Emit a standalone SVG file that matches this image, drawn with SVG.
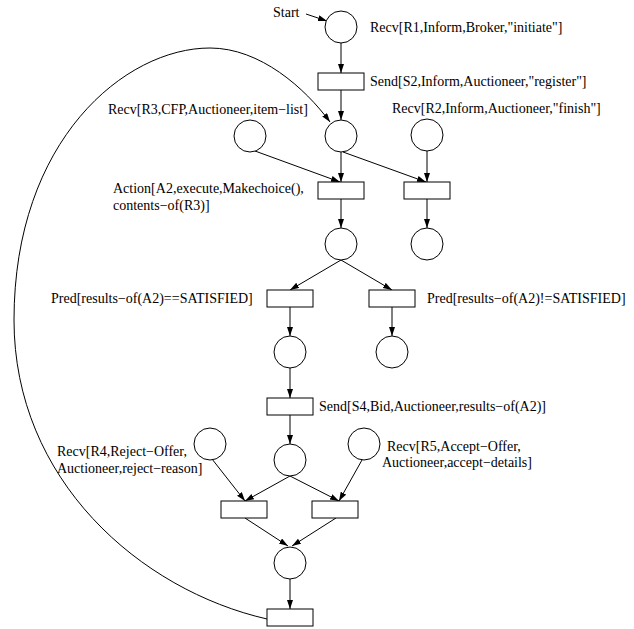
<svg xmlns="http://www.w3.org/2000/svg" width="634" height="629" viewBox="0 0 634 629">
<defs>
<marker id="ah" markerUnits="userSpaceOnUse" markerWidth="10" markerHeight="7" refX="9" refY="3" orient="auto">
<path d="M0,0 L9,3 L0,6 z" fill="#000"/>
</marker>
<style>
.pl{fill:#fff;stroke:#000;stroke-width:1}
.tr{fill:#fff;stroke:#000;stroke-width:1}
.ed{fill:none;stroke:#000;stroke-width:1;marker-end:url(#ah)}
text{font-family:"Liberation Serif","Times New Roman",serif;font-size:14px;fill:#000}
</style>
</defs>
<rect width="634" height="629" fill="#fff"/>
<g id="connectors">
<line class="ed" x1="306" y1="14" x2="327" y2="21"/>
<line class="ed" x1="341" y1="43" x2="341" y2="73"/>
<line class="ed" x1="341" y1="90" x2="341" y2="120"/>
<line class="ed" x1="341" y1="152" x2="341" y2="182"/>
<line class="ed" x1="255" y1="151" x2="340" y2="182"/>
<line class="ed" x1="343" y1="152" x2="426" y2="182"/>
<line class="ed" x1="427" y1="151" x2="427" y2="182"/>
<line class="ed" x1="341" y1="199" x2="341" y2="228"/>
<line class="ed" x1="427" y1="199" x2="427" y2="228"/>
<line class="ed" x1="341" y1="260" x2="290" y2="290"/>
<line class="ed" x1="341" y1="260" x2="392" y2="290"/>
<line class="ed" x1="290" y1="307" x2="290" y2="336"/>
<line class="ed" x1="392" y1="307" x2="392" y2="336"/>
<line class="ed" x1="290" y1="368" x2="290" y2="398"/>
<line class="ed" x1="290" y1="415" x2="290" y2="444"/>
<line class="ed" x1="212" y1="459" x2="245" y2="501"/>
<line class="ed" x1="290" y1="476" x2="245" y2="501"/>
<line class="ed" x1="290" y1="476" x2="339" y2="501"/>
<line class="ed" x1="362" y1="460" x2="339" y2="501"/>
<line class="ed" x1="245" y1="518" x2="288" y2="546"/>
<line class="ed" x1="336" y1="518" x2="292" y2="546"/>
<line class="ed" x1="290" y1="579" x2="290" y2="609"/>
<path class="ed" d="M267,619 C140,590 14,480 14,320 C14,140 125,48 210,48 C260,48 305,88 330,122"/>
</g>
<g id="start"><text x="273" y="17">Start</text></g>
<g id="p_r1"><circle class="pl" cx="341" cy="27" r="16"/><text x="370" y="32">Recv[R1,Inform,Broker,"initiate"]</text></g>
<g id="t_s2"><rect class="tr" x="318" y="73" width="46" height="17"/><text x="370" y="86">Send[S2,Inform,Auctioneer,"register"]</text></g>
<g id="p2"><circle class="pl" cx="341" cy="136" r="16"/></g>
<g id="p_r3"><circle class="pl" cx="250" cy="136" r="16"/><text x="108" y="114">Recv[R3,CFP,Auctioneer,item−list]</text></g>
<g id="p_r2"><circle class="pl" cx="427" cy="135" r="16"/><text x="392" y="113">Recv[R2,Inform,Auctioneer,"finish"]</text></g>
<g id="t_a2"><rect class="tr" x="318" y="182" width="46" height="17"/><text x="113" y="193">Action[A2,execute,Makechoice(),</text><text x="113" y="210">contents−of(R3)]</text></g>
<g id="t_r2"><rect class="tr" x="404" y="182" width="46" height="17"/></g>
<g id="p3"><circle class="pl" cx="341" cy="244" r="16"/></g>
<g id="p_fin"><circle class="pl" cx="427" cy="244" r="16"/></g>
<g id="t_sat"><rect class="tr" x="267" y="290" width="46" height="17"/><text x="51" y="303">Pred[results−of(A2)==SATISFIED]</text></g>
<g id="t_nsat"><rect class="tr" x="369" y="290" width="46" height="17"/><text x="427" y="303">Pred[results−of(A2)!=SATISFIED]</text></g>
<g id="p_sat"><circle class="pl" cx="290" cy="352" r="16"/></g>
<g id="p_nsat"><circle class="pl" cx="392" cy="352" r="16"/></g>
<g id="t_s4"><rect class="tr" x="267" y="398" width="46" height="17"/><text x="319" y="411">Send[S4,Bid,Auctioneer,results−of(A2)]</text></g>
<g id="p_r4"><circle class="pl" cx="210" cy="444" r="16"/><text x="57" y="456">Recv[R4,Reject−Offer,</text><text x="57" y="473">Auctioneer,reject−reason]</text></g>
<g id="p_s4"><circle class="pl" cx="290" cy="460" r="16"/></g>
<g id="p_r5"><circle class="pl" cx="364" cy="444" r="16"/><text x="387" y="451">Recv[R5,Accept−Offer,</text><text x="382" y="467">Auctioneer,accept−details]</text></g>
<g id="t_rej"><rect class="tr" x="221" y="501" width="46" height="17"/></g>
<g id="t_acc"><rect class="tr" x="312" y="501" width="46" height="17"/></g>
<g id="p_join"><circle class="pl" cx="290" cy="563" r="16"/></g>
<g id="t_loop"><rect class="tr" x="267" y="609" width="46" height="17"/></g>
</svg>
